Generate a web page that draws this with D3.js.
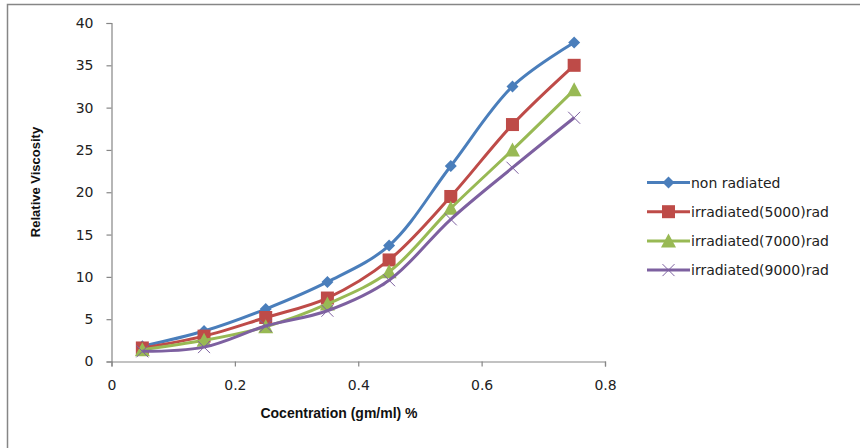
<!DOCTYPE html>
<html>
<head>
<meta charset="utf-8">
<script src="https://cdn.jsdelivr.net/npm/d3@7"></script>
<style>
  body { margin: 0; background: #fff; }
  svg { display: block; }
</style>
</head>
<body>
<svg id="chart" width="860" height="448"></svg>
<script>
// data
var concentration = [0.05, 0.15, 0.25, 0.35, 0.45, 0.55, 0.65, 0.75];
var nonRadiated  = [1.8, 3.6, 6.2, 9.4, 13.7, 23.1, 32.5, 37.7];
var irr5000      = [1.6, 3.0, 5.2, 7.5, 12.0, 19.5, 28.0, 35.0];
var irr7000      = [1.4, 2.5, 4.1, 6.8, 10.6, 18.1, 25.0, 32.1];
var irr9000      = [1.2, 1.7, 4.2, 6.0, 9.6, 16.8, 22.9, 28.8];
var seriesNames  = ["non radiated", "irradiated(5000)rad", "irradiated(7000)rad", "irradiated(9000)rad"];
var xTicks = [0, 0.2, 0.4, 0.6, 0.8];
var yTicks = [0, 5, 10, 15, 20, 25, 30, 35, 40];

var colors = ["#4a7ebb", "#be4b48", "#98b954", "#7d60a0"];
var markers = ["diamond", "square", "triangle", "cross"];
var allSeries = [nonRadiated, irr5000, irr7000, irr9000];

var svg = d3.select("#chart");

// chart border
svg.append("rect")
  .attr("x", 7.5).attr("y", 4.5)
  .attr("width", 900).attr("height", 500)
  .attr("fill", "none").attr("stroke", "#868686").attr("stroke-width", 1.5);

var x = d3.scaleLinear().domain([0, 0.8]).range([111.5, 605]);
var y = d3.scaleLinear().domain([0, 40]).range([361.5, 23]);

var axisColor = "#868686";
var tickFont = "DejaVu Sans, Verdana, sans-serif";

// y axis
var yAxis = svg.append("g")
  .attr("transform", "translate(" + x(0) + ",0)")
  .call(d3.axisLeft(y).tickValues(yTicks).tickSize(5).tickPadding(13).tickFormat(d3.format("d")));
// x axis
var xAxis = svg.append("g")
  .attr("transform", "translate(0," + y(0) + ")")
  .call(d3.axisBottom(x).tickValues(xTicks).tickSize(5).tickPadding(14).tickFormat(function (d) { return d === 0 ? "0" : d3.format(".1f")(d); }));

[yAxis, xAxis].forEach(function (a) {
  a.select(".domain").attr("stroke", axisColor).attr("stroke-width", 1.2);
  a.selectAll(".tick line").attr("stroke", axisColor).attr("stroke-width", 1.2);
  a.selectAll(".tick text")
    .attr("fill", "#222").attr("font-family", tickFont).attr("font-size", "14px");
});

// axis titles
svg.append("text")
  .attr("x", 339).attr("y", 418)
  .attr("text-anchor", "middle")
  .attr("font-family", "Liberation Sans Narrow, Liberation Sans, Arial, sans-serif")
  .attr("font-weight", "bold").attr("font-size", "14px").attr("fill", "#111")
  .text("Cocentration (gm/ml) %");

svg.append("text")
  .attr("transform", "translate(40,182) rotate(-90)")
  .attr("text-anchor", "middle")
  .attr("font-family", "Liberation Sans Narrow, Liberation Sans, Arial, sans-serif")
  .attr("font-weight", "bold").attr("font-size", "13px").attr("fill", "#111")
  .text("Relative Viscosity");

// lines
var line = d3.line()
  .x(function (d, i) { return x(concentration[i]); })
  .y(function (d) { return y(d); })
  .curve(d3.curveCatmullRom.alpha(0.5));

function drawMarker(g, kind, color, cx, cy) {
  if (kind === "diamond") {
    g.append("path").attr("d", "M0,-6L6,0L0,6L-6,0Z")
      .attr("transform", "translate(" + cx + "," + cy + ")").attr("fill", color);
  } else if (kind === "square") {
    g.append("rect").attr("x", cx - 6.5).attr("y", cy - 6.5)
      .attr("width", 13).attr("height", 13).attr("fill", color);
  } else if (kind === "triangle") {
    g.append("path").attr("d", "M0,-7.5L7.5,6.5L-7.5,6.5Z")
      .attr("transform", "translate(" + cx + "," + cy + ")").attr("fill", color);
  } else {
    g.append("path").attr("d", "M-6,-6L6,6M-6,6L6,-6")
      .attr("transform", "translate(" + cx + "," + cy + ")")
      .attr("stroke", color).attr("stroke-width", 1).attr("fill", "none");
  }
}

allSeries.forEach(function (vals, k) {
  var g = svg.append("g").attr("class", "series");
  g.append("path")
    .datum(vals)
    .attr("d", line)
    .attr("fill", "none")
    .attr("stroke", colors[k])
    .attr("stroke-width", 3);
  vals.forEach(function (v, i) {
    drawMarker(g, markers[k], colors[k], x(concentration[i]), y(v));
  });
});

// legend
var legend = svg.append("g").attr("class", "legend");
seriesNames.forEach(function (name, k) {
  var ly = 182.5 + k * 29.2;
  var row = legend.append("g");
  row.append("line")
    .attr("x1", 647).attr("x2", 690).attr("y1", ly).attr("y2", ly)
    .attr("stroke", colors[k]).attr("stroke-width", 3);
  drawMarker(row, markers[k], colors[k], 668.5, ly);
  row.append("text")
    .attr("x", 691).attr("y", ly + 5)
    .attr("font-family", tickFont).attr("font-size", "14px").attr("fill", "#222")
    .text(name);
});
</script>
</body>
</html>
